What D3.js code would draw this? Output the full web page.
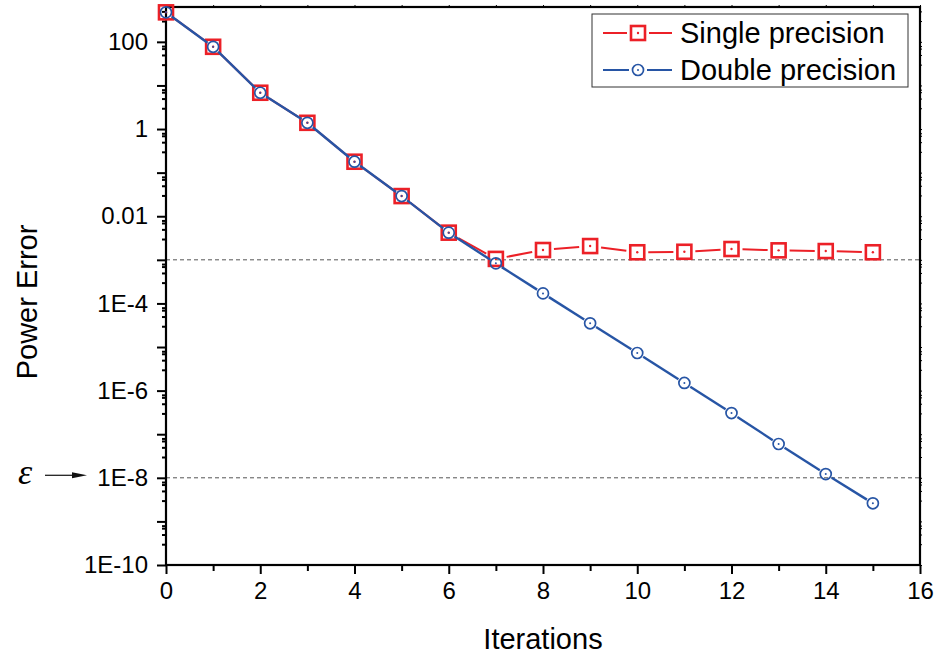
<!DOCTYPE html>
<html>
<head>
<meta charset="utf-8">
<script src="https://cdn.jsdelivr.net/npm/d3@7"></script>
<style>
  body { margin: 0; background: #fff; }
  svg { display: block; font-family: 'Liberation Sans', Arial, sans-serif; }
</style>
</head>
<body>
<svg width="935" height="656"></svg>
<script>
const iterations = [0, 1, 2, 3, 4, 5, 6, 7, 8, 9, 10, 11, 12, 13, 14, 15]

const singlePrecision = [475, 77, 6.8, 1.39, 0.178, 0.029, 0.0042, 1.05e-3, 1.68e-3, 2.07e-3,
  1.49e-3, 1.53e-3, 1.77e-3, 1.65e-3, 1.59e-3, 1.49e-3]

const doublePrecision = [475, 77, 6.8, 1.39, 0.178, 0.029, 0.0042, 8.3e-4, 1.7e-4, 3.5e-5,
  7.3e-6, 1.5e-6, 3.06e-7, 5.96e-8, 1.22e-8, 2.6e-9]

const xTicks = [0, 2, 4, 6, 8, 10, 12, 14, 16]
const yTickValues = [100, 1, 0.01, 1e-4, 1e-6, 1e-8, 1e-10]
const yTickLabels = ['100', '1', '0.01', '1E-4', '1E-6', '1E-8', '1E-10']
const thresholds = [1e-3, 1e-8]
const seriesNames = ['Single precision', 'Double precision']

const red = '#ec2027'
const blue = '#2755a5'

const plotLeft = 166
const plotRight = 920
const plotTop = 7
const plotBottom = 565

const svg = d3.select('svg')

const x = d3.scaleLinear().domain([0, 16]).range([plotLeft, plotRight])
const y = d3.scaleLog().domain([1e-10, 630]).range([plotBottom, plotTop])

// minor ticks on the log axis
const minorY = []
for (let e = -10; e <= 2; e++) {
  [3, 5, 7, 8].forEach((m) => {
    const v = m * Math.pow(10, e)
    if (v < 630) minorY.push(v)
  })
}
const decadeY = d3.range(-9, 3, 2).map((e) => Math.pow(10, e))

// dashed threshold lines
svg.append('g')
  .selectAll('line')
  .data(thresholds)
  .join('line')
  .attr('x1', plotLeft)
  .attr('x2', plotRight)
  .attr('y1', (d) => y(d))
  .attr('y2', (d) => y(d))
  .attr('stroke', '#555')
  .attr('stroke-width', 1)
  .attr('stroke-dasharray', '4,3')

// axes
const xAxis = d3.axisBottom(x).tickValues(xTicks).tickSize(9).tickPadding(8).tickFormat(d3.format('d'))
const xMinor = d3.axisBottom(x).tickValues(d3.range(1, 16, 2)).tickSize(6).tickFormat('')
const yAxis = d3.axisLeft(y).tickValues(yTickValues).tickSize(9).tickPadding(9)
  .tickFormat((d, i) => yTickLabels[i])
const yDecade = d3.axisLeft(y).tickValues(decadeY).tickSize(9).tickFormat('')
const yMinor = d3.axisLeft(y).tickValues(minorY).tickSize(4).tickFormat('')

function styleAxis(g) {
  g.select('.domain').remove()
  g.selectAll('.tick line').attr('stroke', '#000').attr('stroke-width', 2)
  g.selectAll('.tick text').attr('fill', '#000').style('font-size', '24px')
    .style('font-family', "'Liberation Sans', Arial, sans-serif")
}

svg.append('g').attr('transform', `translate(0,${plotBottom})`).call(xAxis).call(styleAxis)
svg.append('g').attr('transform', `translate(0,${plotBottom})`).call(xMinor).call(styleAxis)
svg.append('g').attr('transform', `translate(${plotLeft},0)`).call(yAxis).call(styleAxis)
svg.append('g').attr('transform', `translate(${plotLeft},0)`).call(yDecade).call(styleAxis)
svg.append('g').attr('transform', `translate(${plotLeft},0)`).call(yMinor).call(styleAxis)

// small mirror ticks on top and right
const topTicks = d3.axisTop(x).tickValues(d3.range(0, 17)).tickSize(2).tickFormat('')
const rightTicks = d3.axisRight(y).tickValues(yTickValues.concat(decadeY, minorY)).tickSize(2).tickFormat('')
svg.append('g').attr('transform', `translate(0,${plotTop})`).call(topTicks).call((g) => {
  g.select('.domain').remove()
  g.selectAll('.tick line').attr('stroke', '#000').attr('stroke-width', 1)
})
svg.append('g').attr('transform', `translate(${plotRight},0)`).call(rightTicks).call((g) => {
  g.select('.domain').remove()
  g.selectAll('.tick line').attr('stroke', '#000').attr('stroke-width', 1)
})

// frame
svg.append('rect')
  .attr('x', plotLeft)
  .attr('y', plotTop)
  .attr('width', plotRight - plotLeft)
  .attr('height', plotBottom - plotTop)
  .attr('fill', 'none')
  .attr('stroke', '#000')
  .attr('stroke-width', 2.2)

// line segments with gaps around the markers
function gapSegments(values, gap) {
  const pts = values.map((v, i) => [x(iterations[i]), y(v)])
  const segs = []
  for (let i = 0; i < pts.length - 1; i++) {
    const [x0, y0] = pts[i]
    const [x1, y1] = pts[i + 1]
    const len = Math.hypot(x1 - x0, y1 - y0)
    if (len <= gap * 2) continue
    const ux = (x1 - x0) / len
    const uy = (y1 - y0) / len
    segs.push([x0 + ux * gap, y0 + uy * gap, x1 - ux * gap, y1 - uy * gap])
  }
  return segs
}

function drawSeries(values, color, gap, width) {
  svg.append('g')
    .selectAll('line')
    .data(gapSegments(values, gap))
    .join('line')
    .attr('x1', (d) => d[0])
    .attr('y1', (d) => d[1])
    .attr('x2', (d) => d[2])
    .attr('y2', (d) => d[3])
    .attr('stroke', color)
    .attr('stroke-width', width)
}

function squareMarker(g, cx, cy) {
  g.append('rect')
    .attr('x', cx - 7)
    .attr('y', cy - 7)
    .attr('width', 14)
    .attr('height', 14)
    .attr('fill', 'none')
    .attr('stroke', red)
    .attr('stroke-width', 2.6)
  g.append('circle').attr('cx', cx).attr('cy', cy).attr('r', 1.2).attr('fill', red)
}

function circleMarker(g, cx, cy) {
  g.append('circle')
    .attr('cx', cx)
    .attr('cy', cy)
    .attr('r', 5.5)
    .attr('fill', 'none')
    .attr('stroke', blue)
    .attr('stroke-width', 1.7)
  g.append('circle').attr('cx', cx).attr('cy', cy).attr('r', 1).attr('fill', blue)
}

drawSeries(singlePrecision, red, 11, 2)
const redMarks = svg.append('g')
singlePrecision.forEach((v, i) => squareMarker(redMarks, x(iterations[i]), y(v)))

drawSeries(doublePrecision, blue, 7, 2.4)
const blueMarks = svg.append('g')
doublePrecision.forEach((v, i) => circleMarker(blueMarks, x(iterations[i]), y(v)))

// axis titles
svg.append('text')
  .attr('x', (plotLeft + plotRight) / 2)
  .attr('y', 649)
  .attr('text-anchor', 'middle')
  .style('font-size', '29px')
  .text('Iterations')

svg.append('text')
  .attr('transform', 'translate(37,302) rotate(-90)')
  .attr('text-anchor', 'middle')
  .style('font-size', '29px')
  .text('Power Error')

// epsilon marker with arrow
svg.append('text')
  .attr('x', 18)
  .attr('y', 484)
  .style('font-family', "'Liberation Serif', 'DejaVu Serif', serif")
  .style('font-style', 'italic')
  .style('font-size', '36px')
  .text('ε')
svg.append('line')
  .attr('x1', 45)
  .attr('x2', 74)
  .attr('y1', y(1e-8) - 2.5)
  .attr('y2', y(1e-8) - 2.5)
  .attr('stroke', '#222')
  .attr('stroke-width', 1.3)
svg.append('path')
  .attr('d', `M72,${y(1e-8) - 5.5}L87,${y(1e-8) - 2.5}L72,${y(1e-8) + 0.5}Z`)
  .attr('fill', '#111')

// legend
const legend = svg.append('g').attr('transform', 'translate(592,14)')
legend.append('rect')
  .attr('width', 316)
  .attr('height', 73)
  .attr('fill', '#fff')
  .attr('stroke', '#333')
  .attr('stroke-width', 1)

const rows = [
  { name: seriesNames[0], color: red, marker: squareMarker, gap: 11 },
  { name: seriesNames[1], color: blue, marker: circleMarker, gap: 9 },
]
rows.forEach((r, i) => {
  const cy = 19 + i * 37
  const g = legend.append('g')
  g.append('line').attr('x1', 11).attr('x2', 46 - r.gap).attr('y1', cy).attr('y2', cy)
    .attr('stroke', r.color).attr('stroke-width', 2)
  g.append('line').attr('x1', 46 + r.gap).attr('x2', 80).attr('y1', cy).attr('y2', cy)
    .attr('stroke', r.color).attr('stroke-width', 2)
  r.marker(g, 46, cy)
  g.append('text')
    .attr('x', 88)
    .attr('y', cy + 10)
    .style('font-size', '29px')
    .text(r.name)
})
</script>
</body>
</html>
